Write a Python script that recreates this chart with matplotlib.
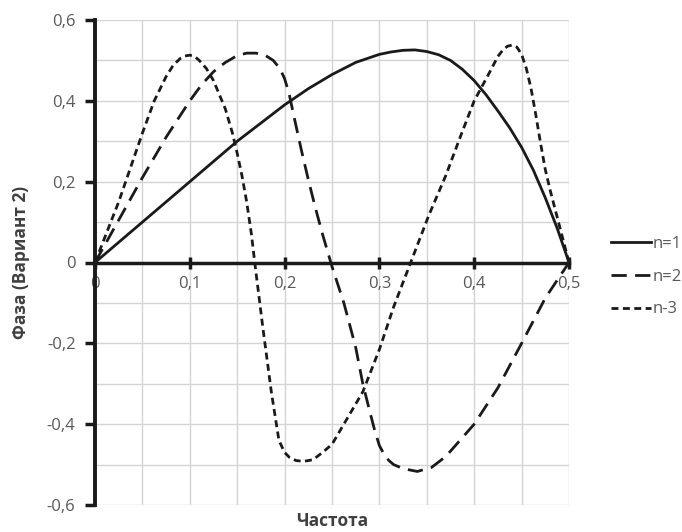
import matplotlib
matplotlib.use("Agg")
import matplotlib.pyplot as plt
from matplotlib.ticker import MultipleLocator, FuncFormatter

plt.rcParams['font.family'] = ['Open Sans', 'DejaVu Sans']

# Data
f1 = [0, 0.025, 0.05, 0.075, 0.1, 0.125, 0.15, 0.175, 0.2, 0.225, 0.25, 0.275,
      0.3, 0.3125, 0.325, 0.3375, 0.35, 0.3625, 0.375, 0.3875, 0.4, 0.4125,
      0.425, 0.4375, 0.45, 0.4625, 0.475, 0.4875, 0.5]
n1 = [0, 0.05, 0.10, 0.15, 0.20, 0.25, 0.30, 0.345, 0.39, 0.43, 0.465, 0.495,
      0.515, 0.521, 0.525, 0.526, 0.522, 0.514, 0.50, 0.478, 0.45, 0.415,
      0.375, 0.333, 0.285, 0.228, 0.16, 0.085, 0]

f2 = [0, 0.025, 0.05, 0.075, 0.1, 0.1125, 0.125, 0.1375, 0.15, 0.16, 0.17, 0.18,
      0.188, 0.195, 0.2, 0.205, 0.21, 0.2175, 0.225, 0.2325, 0.24, 0.25, 0.2625,
      0.275, 0.2825, 0.29, 0.295, 0.3, 0.305, 0.31, 0.315, 0.325, 0.34, 0.355,
      0.37, 0.385, 0.4, 0.425, 0.45, 0.475, 0.5]
n2 = [0, 0.105, 0.21, 0.31, 0.40, 0.44, 0.472, 0.495, 0.512, 0.518, 0.518, 0.512,
      0.50, 0.48, 0.455, 0.415, 0.36, 0.28, 0.205, 0.135, 0.07, -0.01, -0.10,
      -0.21, -0.30, -0.37, -0.415, -0.453, -0.475, -0.49, -0.50, -0.51, -0.517, -0.507,
      -0.48, -0.44, -0.40, -0.31, -0.20, -0.088, 0]

f3 = [0, 0.0125, 0.025, 0.0375, 0.05, 0.0625, 0.075, 0.0825, 0.09, 0.095, 0.1,
      0.105, 0.11, 0.1175, 0.125, 0.1375, 0.145, 0.15, 0.155, 0.16, 0.165,
      0.1685, 0.177, 0.186, 0.194, 0.2, 0.205, 0.212, 0.22, 0.23, 0.24, 0.25,
      0.265, 0.2825, 0.3, 0.315, 0.333, 0.352, 0.37, 0.386, 0.4, 0.415, 0.425,
      0.43, 0.435, 0.44, 0.445, 0.45, 0.455, 0.46, 0.465, 0.47, 0.475, 0.48,
      0.485, 0.49, 0.495, 0.5]
n3 = [0, 0.075, 0.15, 0.235, 0.32, 0.40, 0.46, 0.488, 0.505, 0.511, 0.513,
      0.51, 0.50, 0.48, 0.45, 0.38, 0.32, 0.27, 0.215, 0.15, 0.07,
      0.0, -0.16, -0.32, -0.44, -0.47, -0.482, -0.49, -0.492, -0.488, -0.47, -0.45,
      -0.39, -0.32, -0.215, -0.11, 0.0, 0.116, 0.215, 0.315, 0.40, 0.465, 0.51,
      0.525, 0.535, 0.538, 0.533, 0.515, 0.48, 0.43, 0.365, 0.295, 0.23, 0.18,
      0.135, 0.09, 0.045, 0]

labels = ["n=1", "n=2", "n-3"]
x_label = "Частота"
y_label = "Фаза (Вариант 2)"

fig = plt.figure(figsize=(6.82, 5.32), dpi=100)
ax = fig.add_axes([95/682, 1-505/532, (569-95)/682, (505-20)/532])

ax.set_xlim(0, 0.5)
ax.set_ylim(-0.6, 0.6)

ax.xaxis.set_major_locator(MultipleLocator(0.1))
ax.xaxis.set_minor_locator(MultipleLocator(0.05))
ax.yaxis.set_major_locator(MultipleLocator(0.2))
ax.yaxis.set_minor_locator(MultipleLocator(0.1))
ax.grid(which='both', color='#d4d4d4', linewidth=1.0)
ax.set_axisbelow(True)

fmt = FuncFormatter(lambda v, p: ("%g" % round(v, 2)).replace('.', ','))
ax.xaxis.set_major_formatter(fmt)
ax.yaxis.set_major_formatter(fmt)

for s in ['top', 'right']:
    ax.spines[s].set_visible(False)
ax.spines['left'].set_linewidth(2.8)
ax.spines['left'].set_color('#1a1a1a')
ax.spines['bottom'].set_position(('data', 0))
ax.spines['bottom'].set_linewidth(2.5)
ax.spines['bottom'].set_color('#1a1a1a')

ax.tick_params(axis='y', which='major', direction='out', length=7, width=2.5,
               color='#1a1a1a', labelsize=12, labelcolor='#595959', pad=7)
ax.tick_params(axis='x', which='major', direction='inout', length=8, width=2.5,
               color='#1a1a1a', labelsize=12, labelcolor='#595959', pad=6)
ax.tick_params(which='minor', length=0)

ax.plot(f1, n1, color='#1a1a1a', lw=2.0, linestyle='-', label=labels[0])
ax.plot(f2, n2, color='#1a1a1a', lw=2.0, linestyle=(0, (5.5, 3)), label=labels[1])
ax.plot(f3, n3, color='#1a1a1a', lw=2.0, linestyle=(0, (2.5, 1.6)), label=labels[2])

ax.set_xlabel(x_label, fontsize=12.5, fontweight='bold', color='#404040')
ax.xaxis.set_label_coords(0.5, -0.014)
ax.set_ylabel(y_label, fontsize=12.5, fontweight='bold', color='#404040')
ax.yaxis.set_label_coords(-0.137, 0.5)

leg = ax.legend(loc='upper left', bbox_to_anchor=(596/682, 1-221/532),
                bbox_transform=fig.transFigure, frameon=False, fontsize=12,
                handlelength=2.4, handletextpad=0.1, labelspacing=1.0,
                labelcolor='#595959')

fig.savefig("out.png", dpi=100)
